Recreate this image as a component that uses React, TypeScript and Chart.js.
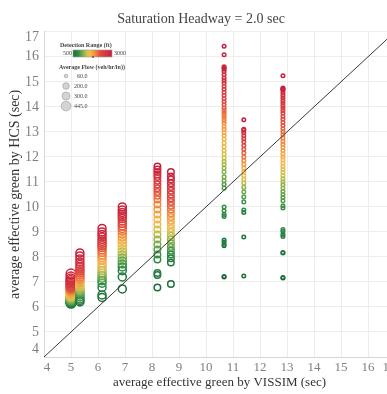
import { useEffect, useRef } from "react";
import { Chart, registerables } from "chart.js";
Chart.register(...registerables);

const FONT = "'Liberation Serif', 'DejaVu Serif', serif";

const titleText = "Saturation Headway = 2.0 sec";
const xTitle = "average effective green by VISSIM (sec)";
const yTitle = "average effective green by HCS (sec)";

// detection range (ft) of each point in a column, low to high
const detectionRanges = [500, 600, 700, 800, 900, 1000, 1100, 1200, 1300, 1400, 1500, 1600, 1700, 1800, 1900, 2000, 2100, 2200, 2300, 2400, 2500, 2600, 2700, 2800, 2900, 3000];

// columns: VISSIM green (x), average flow, HCS green per detection range
const vissimGreen = [5.0, 5.33, 6.15, 6.9, 8.2, 8.7, 10.67, 11.4, 12.85];
const averageFlow = [445, 300, 300, 300, 200, 200, 60, 60, 60];

const hcsAt5_0 = [6.15, 6.18, 6.2, 6.23, 6.26, 6.3, 6.34, 6.38, 6.42, 6.46, 6.5, 6.55, 6.6, 6.64, 6.68, 6.72, 6.76, 6.8, 6.85, 6.9, 6.95, 7.0, 7.06, 7.12, 7.2, 7.32];
const hcsAt5_3 = [6.2, 6.26, 6.32, 6.4, 6.48, 6.56, 6.62, 6.68, 6.74, 6.8, 6.86, 6.92, 7.0, 7.08, 7.14, 7.2, 7.28, 7.36, 7.44, 7.52, 7.6, 7.7, 7.8, 7.92, 8.04, 8.16];
const hcsAt6_2 = [6.38, 6.48, 6.78, 6.95, 7.05, 7.15, 7.25, 7.35, 7.45, 7.55, 7.65, 7.76, 7.88, 7.98, 8.08, 8.18, 8.28, 8.38, 8.46, 8.54, 8.62, 8.7, 8.8, 8.9, 9.0, 9.14];
const hcsAt6_9 = [6.72, 7.2, 7.45, 7.6, 7.72, 7.84, 7.96, 8.08, 8.2, 8.32, 8.44, 8.56, 8.68, 8.8, 8.92, 9.04, 9.14, 9.24, 9.34, 9.44, 9.54, 9.62, 9.7, 9.78, 9.88, 10.0];
const hcsAt8_2 = [6.78, 7.28, 7.36, 7.9, 8.1, 8.3, 8.5, 8.7, 8.9, 9.1, 9.3, 9.5, 9.7, 9.9, 10.1, 10.3, 10.45, 10.6, 10.75, 10.9, 11.05, 11.2, 11.3, 11.4, 11.5, 11.62];
const hcsAt8_7 = [6.92, 7.78, 7.95, 8.1, 8.25, 8.4, 8.55, 8.7, 8.85, 9.0, 9.15, 9.3, 9.45, 9.6, 9.75, 9.9, 10.05, 10.2, 10.35, 10.5, 10.65, 10.8, 10.95, 11.1, 11.22, 11.4];
const hcsAt10_7a = [7.2, 8.45, 8.6, 9.62, 9.85, 10.75, 11.05, 11.4, 11.7, 11.95, 12.25, 12.55, 12.85, 13.1, 13.35, 13.55, 13.75, 13.95, 14.2, 14.45, 14.7, 14.95, 15.15, 15.4, 16.08, 16.42];
const hcsAt10_7b = [7.22, 8.5, 8.68, 9.7, 10.0, 10.9, 11.2, 11.55, 11.82, 12.1, 12.4, 12.7, 12.98, 13.22, 13.45, 13.65, 13.85, 14.08, 14.32, 14.58, 14.82, 15.05, 15.28, 15.55, 15.6, 15.5];
const hcsAt11_4 = [7.24, 8.8, 9.78, 9.88, 10.2, 10.4, 10.6, 10.78, 10.95, 11.1, 11.25, 11.4, 11.55, 11.7, 11.85, 12.0, 12.15, 12.3, 12.45, 12.6, 12.72, 12.84, 12.96, 13.06, 13.1, 13.48];
const hcsAt12_9a = [7.16, 8.16, 8.82, 9.02, 9.96, 10.25, 10.5, 10.75, 11.0, 11.25, 11.5, 11.75, 12.0, 12.25, 12.5, 12.75, 13.0, 13.25, 13.5, 13.75, 13.95, 14.15, 14.35, 14.55, 14.75, 15.24];
const hcsAt12_9b = [7.18, 8.18, 8.9, 9.1, 10.05, 10.38, 10.62, 10.88, 11.12, 11.38, 11.62, 11.88, 12.12, 12.38, 12.62, 12.88, 13.12, 13.38, 13.62, 13.85, 14.05, 14.25, 14.45, 14.65, 14.7, 14.72];

const columnSeries = [
  [hcsAt5_0], [hcsAt5_3], [hcsAt6_2], [hcsAt6_9], [hcsAt8_2], [hcsAt8_7],
  [hcsAt10_7a, hcsAt10_7b], [hcsAt11_4], [hcsAt12_9a, hcsAt12_9b],
];

const legendFlows = [60, 200, 300, 445];
const rangeMin = 500;
const rangeMax = 3000;
const axisMin = 4;
const axisMax = 17;
const axisTicks = [4, 5, 6, 7, 8, 9, 10, 11, 12, 13, 14, 15, 16, 17];

const stops: [number, [number, number, number]][] = [
  [0, [26, 110, 56]],
  [0.14, [47, 140, 70]],
  [0.26, [127, 177, 80]],
  [0.36, [212, 194, 76]],
  [0.44, [247, 184, 77]],
  [0.55, [244, 144, 63]],
  [0.7, [224, 74, 64]],
  [1, [199, 32, 62]],
];

function rangeColor(r: number): string {
  const t = Math.max(0, Math.min(1, (r - rangeMin) / (rangeMax - rangeMin)));
  for (let i = 1; i < stops.length; i++) {
    if (t <= stops[i][0]) {
      const [t0, c0] = stops[i - 1];
      const [t1, c1] = stops[i];
      const f = (t - t0) / (t1 - t0);
      const c = c0.map((v, k) => Math.round(v + (c1[k] - v) * f));
      return `rgb(${c[0]},${c[1]},${c[2]})`;
    }
  }
  return "rgb(199,32,62)";
}

function flowRadius(flow: number): number {
  return 0.23 * Math.sqrt(flow);
}

const tickLabelPlugin = {
  id: "tickLabels",
  afterDraw(chart: any) {
    const ctx = chart.ctx as CanvasRenderingContext2D;
    const xs = chart.scales.x;
    const ys = chart.scales.y;
    const area = chart.chartArea;
    ctx.save();
    ctx.fillStyle = "#808080";
    ctx.textBaseline = "middle";
    ctx.font = `14px ${FONT}`;
    ctx.textAlign = "right";
    axisTicks.forEach((v) => {
      const py = Math.min(Math.max(ys.getPixelForValue(v), area.top + 6), area.bottom - 8);
      ctx.fillText(String(v), area.left - 5, py);
    });
    ctx.font = `13px ${FONT}`;
    ctx.textAlign = "center";
    axisTicks.forEach((v) => {
      const px = Math.min(Math.max(xs.getPixelForValue(v), area.left + 3), area.right - 6);
      ctx.fillText(String(v), px, area.bottom + 11);
    });
    ctx.restore();
  },
};

const legendPlugin = {
  id: "customLegend",
  afterDraw(chart: any) {
    const ctx = chart.ctx as CanvasRenderingContext2D;
    ctx.save();
    ctx.fillStyle = "#444";
    ctx.textBaseline = "middle";
    ctx.font = `bold 6px ${FONT}`;
    ctx.textAlign = "left";
    ctx.fillText("Detection Range (ft)", 60, 45);
    ctx.font = `6px ${FONT}`;
    ctx.textAlign = "right";
    ctx.fillText(String(rangeMin), 72, 53.5);
    ctx.textAlign = "left";
    ctx.fillText(String(rangeMax), 114, 53.5);
    const bx = 73, by = 50, bw = 39, bh = 7;
    const g = ctx.createLinearGradient(bx, 0, bx + bw, 0);
    stops.forEach(([t]) => g.addColorStop(t, rangeColor(rangeMin + t * (rangeMax - rangeMin))));
    ctx.fillStyle = g;
    ctx.fillRect(bx, by, bw, bh);
    ctx.strokeStyle = "#999";
    ctx.lineWidth = 0.6;
    ctx.strokeRect(bx, by, bw, bh);
    ctx.fillStyle = "#222";
    ctx.fillRect(92.5, 56, 1, 2);
    ctx.fillStyle = "#444";
    ctx.font = `bold 6px ${FONT}`;
    ctx.fillText("Average Flow (veh/hr/ln))", 59, 67);
    ctx.font = `6px ${FONT}`;
    const rows = [76, 86, 96, 106];
    legendFlows.forEach((f, i) => {
      ctx.beginPath();
      ctx.arc(66, rows[i], flowRadius(f), 0, Math.PI * 2);
      ctx.fillStyle = "#d4d4d4";
      ctx.fill();
      ctx.strokeStyle = "#aaa";
      ctx.lineWidth = 0.8;
      ctx.stroke();
      ctx.fillStyle = "#444";
      ctx.fillText(f.toFixed(1), i === 0 ? 77 : 74, rows[i]);
    });
    ctx.restore();
  },
};

export default function App() {
  const ref = useRef<HTMLCanvasElement>(null);
  useEffect(() => {
    if (!ref.current) return;
    const points: any[] = [];
    const colors: string[] = [];
    const radii: number[] = [];
    columnSeries.forEach((seriesList, ci) => {
      seriesList.forEach((ys) => {
        ys.forEach((y, k) => {
          points.push({ x: vissimGreen[ci], y });
          colors.push(rangeColor(detectionRanges[k]));
          radii.push(flowRadius(averageFlow[ci]));
        });
      });
    });
    const chart = new Chart(ref.current, {
      type: "scatter",
      data: {
        datasets: [
          {
            type: "line",
            data: [{ x: axisMin, y: axisMin }, { x: axisMax, y: axisMax }],
            borderColor: "#3a3a3a",
            borderWidth: 1,
            pointRadius: 0,
          } as any,
          {
            data: points,
            pointRadius: radii,
            pointBorderColor: colors,
            pointBackgroundColor: "rgba(0,0,0,0)",
            pointBorderWidth: 1.5,
          },
        ],
      },
      options: {
        animation: false,
        responsive: false,
        devicePixelRatio: 1,
        layout: { padding: { left: 7, right: 25, top: 0, bottom: 0 } },
        plugins: {
          legend: { display: false },
          tooltip: { enabled: false },
          title: {
            display: true,
            text: titleText,
            color: "#444",
            font: { family: FONT, size: 14, weight: "normal" },
            padding: { top: 11, bottom: 4 },
          },
        },
        scales: {
          x: {
            type: "linear",
            min: axisMin,
            max: axisMax,
            ticks: { stepSize: 1, display: false },
            grid: { color: "#ededed", drawTicks: false },
            border: { color: "#d6d6d6" },
            title: { display: true, text: xTitle, color: "#333", font: { family: FONT, size: 13 }, padding: { top: 0, bottom: 4 } },
            afterFit: (s: any) => { s.height = 37; },
          },
          y: {
            type: "linear",
            min: axisMin,
            max: axisMax,
            ticks: { stepSize: 1, display: false },
            grid: { color: "#ededed", drawTicks: false },
            border: { color: "#d6d6d6" },
            title: { display: true, text: yTitle, color: "#333", font: { family: FONT, size: 14 }, padding: 0 },
            afterFit: (s: any) => { s.width = 37; },
          },
        },
      },
      plugins: [tickLabelPlugin, legendPlugin],
    });
    return () => chart.destroy();
  }, []);
  return (
    <div style={{ position: "fixed", left: 0, top: 0, width: 387, height: 394, overflow: "hidden", background: "#fff" }}>
      <canvas ref={ref} width={420} height={394} style={{ display: "block", width: 420, height: 394 }} />
    </div>
  );
}
